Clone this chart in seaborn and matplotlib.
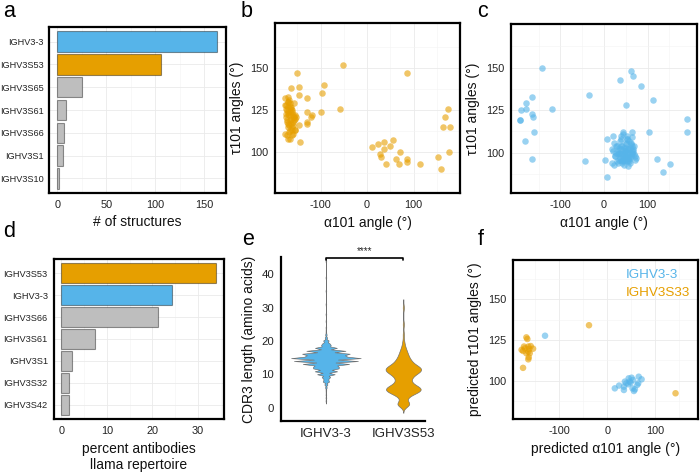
import numpy as np
import pandas as pd
import matplotlib
matplotlib.use("Agg")
import matplotlib.pyplot as plt
import seaborn as sns
from matplotlib.ticker import MultipleLocator, FixedLocator

BLUE = "#56B4E9"
ORANGE = "#E69F00"
GREY = "#BEBEBE"

# ---------------- data ----------------
# panel a: number of structures per germline
a_genes = ["IGHV3-3", "IGHV3S53", "IGHV3S65", "IGHV3S61", "IGHV3S66", "IGHV3S1", "IGHV3S10"]
a_counts = [163, 106, 25, 9, 7, 6, 2]
a_colors = [BLUE, ORANGE, GREY, GREY, GREY, GREY, GREY]

# panel d: percent of llama repertoire
d_genes = ["IGHV3S53", "IGHV3-3", "IGHV3S66", "IGHV3S61", "IGHV3S1", "IGHV3S32", "IGHV3S42"]
d_percent = [33.9, 24.4, 21.3, 7.5, 2.3, 1.8, 1.7]
d_colors = [ORANGE, BLUE, GREY, GREY, GREY, GREY, GREY]

# panel b: IGHV3S53 structures (alpha101, tau101)
b_alpha_out = [-52, -150, 86, -93, -146, -164, -146, -130, -97, -59, -99, -130, -119, -121, -130, -130,
               -146, -154, -144, -170,
               10, 23, 37, 56, 49, 36, 27, 30, 70, 62, 86, 86, 41, 68, 114, 152, 159, 175, 167, 163, 178, 177]
b_tau_out = [152, 147, 147, 140, 139, 138, 134, 132, 135, 126, 124, 124, 122, 121, 118, 117,
             116, 113, 106, 108,
             103, 105, 106, 107, 104, 102, 99, 97, 100, 96, 96, 94, 93, 93, 93, 97, 90, 126, 121, 115, 115, 100]
b_alpha_clu = [-176, -174, -172, -170, -168, -166, -164, -162, -160, -158, -156,
               -175, -173, -171, -169, -167, -165, -163, -161, -159, -157,
               -177, -172, -168, -164, -160, -155,
               -170, -166, -162, -158,
               -174, -170, -165, -161,
               -176, -171, -167, -163, -159,
               -169, -166, -173, -160, -154, -152, -165, -170, -175, -162]
b_tau_clu = [132, 128, 125, 130, 122, 119, 127, 124, 121, 129, 120,
             126, 118, 115, 123, 131, 113, 117, 125, 111, 121,
             128, 110, 116, 120, 118, 122,
             127, 124, 113, 119,
             121, 133, 129, 115,
             111, 124, 112, 126, 116,
             130, 108, 119, 122, 113, 121, 127, 117, 123, 110]

# panel c: IGHV3-3 structures (alpha101, tau101)
c_alpha_out = [-143, 62, 67, 37, 84, -166, -35, 112, -179, -179, -190, 50, -118, -192, -192, -166, -163,
               189, 191, -160, 104, -181, -165, -43, 3, 6, 18, 122, 151, 136, 6, 20, 65]
c_tau_out = [150, 148, 145, 143, 139, 133, 134, 131, 129, 126, 125, 128, 126, 119, 119, 123, 121,
             120, 112, 112, 112, 107, 96.5, 95, 96, 86, 94, 96.5, 93.5, 88.6, 108, 110, 112]
c_alpha_clu = [20, 25, 30, 35, 40, 45, 50, 55, 60, 65, 70,
               22, 28, 33, 38, 43, 48, 53, 58, 63, 68, 73,
               18, 24, 31, 36, 41, 46, 51, 56, 61, 66, 71,
               27, 34, 39, 44, 49, 54, 59, 64, 69,
               32, 37, 42, 47, 52, 57, 62, 67,
               29, 35, 40, 45, 50, 55, 60, 65,
               38, 43, 48, 53, 58,
               26, 46, 51, 56, 61,
               44, 49, 54,
               36, 41, 63, 57, 47, 52, 42, 39, 55]
c_tau_clu = [101, 98, 104, 96, 102, 99, 105, 97, 103, 100, 96,
             106, 100, 94, 108, 97, 101, 110, 95, 99, 104, 97,
             102, 93, 99, 107, 95, 103, 98, 92, 106, 101, 98,
             104, 100, 96, 111, 97, 102, 94, 109, 99,
             101, 97, 104, 100, 95, 107, 98, 102,
             95, 103, 99, 93, 106, 100, 97, 104,
             110, 96, 101, 108, 99,
             98, 95, 103, 100, 105,
             112, 96, 102,
             99, 94, 101, 97, 97, 108, 100, 104, 96]

# panel e: CDR3 length distributions (length -> number of antibodies)
e_genes = ["IGHV3-3", "IGHV3S53"]
e_len_33 = [2, 3, 4, 5, 6, 7, 8, 9, 10, 11, 12, 13, 14, 15, 16, 17, 18, 19, 20, 21, 22, 23, 24, 26, 28, 31, 35, 39, 44]
e_cnt_33 = [1, 1, 1, 1, 2, 4, 10, 12, 22, 30, 45, 62, 80, 100, 75, 50, 28, 15, 8, 3, 2, 1, 1, 1, 1, 1, 1, 1, 1]
e_len_53 = [1, 2, 3, 4, 5, 6, 7, 8, 9, 10, 11, 12, 13, 14, 15, 16, 17, 18, 19, 20, 22, 25, 30]
e_cnt_53 = [9, 2, 3, 8, 16, 16, 8, 6, 7, 10, 16, 16, 9, 7, 5, 4, 3, 2, 1, 1, 1, 1, 1]

# panel f: predicted angles
f_alpha_33 = [-130, 16, 25, 35, 35, 40, 45, 51, 47, 44, 54, 53, 56, 65, 66, 72, 63, 37, 58, 49]
f_tau_33 = [127.6, 95.5, 97.2, 94.5, 96.5, 98.6, 101.6, 102, 99.6, 98, 100.6, 95.5, 93.9, 98.6, 102.6,
            101, 97.6, 99.6, 94.9, 99]
f_alpha_s33 = [-38, 143, -176, -169, -167, -174, -179, -165, -160, -155, -163, -165, -162, -169, -165,
               -164, -176, -172]
f_tau_s33 = [134, 92.5, 108, 126.6, 125.6, 121, 119, 121, 121.3, 119.7, 119.5, 117.9, 116.9, 116.9,
             113.2, 114.4, 118.3, 119.9]

# ---------------- style ----------------
sns.set_style("white")
plt.rcParams["font.family"] = ["Liberation Sans", "DejaVu Sans"]
plt.rcParams["axes.unicode_minus"] = False

W, H = 700, 472
fig = plt.figure(figsize=(7, 4.72), dpi=100)


def add_ax(x0, y0, x1, y1):
    return fig.add_axes([x0 / W, 1 - y1 / H, (x1 - x0) / W, (y1 - y0) / H])


def framed(ax):
    for s in ax.spines.values():
        s.set_visible(True)
        s.set_linewidth(1.6)
        s.set_color("black")
    ax.set_axisbelow(True)
    ax.grid(True, which="major", color="#EAEAEA", lw=0.6)
    ax.grid(True, which="minor", color="#F3F3F3", lw=0.4)
    ax.tick_params(which="major", length=3, width=0.7, color="#333333",
                   labelsize=7.8, labelcolor="#222222", pad=2)
    ax.tick_params(which="minor", length=0)


LBL = dict(fontsize=10, color="#111111")
BAR_EDGE = (0, 0, 0, 0.4)

# ---------------- panel a ----------------
ax = add_ax(49, 27, 226, 193)
sns.barplot(x=a_counts, y=a_genes, hue=a_genes, palette=a_colors, legend=False, orient="h",
            width=0.9, saturation=1, edgecolor=BAR_EDGE, linewidth=0.8, ax=ax)
framed(ax)
ax.set_xlim(-8.5, 172)
ax.set_ylim(6.645, -0.645)
ax.xaxis.set_major_locator(FixedLocator([0, 50, 100, 150]))
ax.xaxis.set_minor_locator(MultipleLocator(25))
ax.tick_params(axis="y", labelsize=6.6, pad=0.8)
ax.set_xlabel("# of structures", **LBL)
ax.set_ylabel("")

# ---------------- panel d ----------------
ax = add_ax(54, 259, 224, 419)
sns.barplot(x=d_percent, y=d_genes, hue=d_genes, palette=d_colors, legend=False, orient="h",
            width=0.9, saturation=1, edgecolor=BAR_EDGE, linewidth=0.8, ax=ax)
framed(ax)
ax.set_xlim(-1.6, 35.7)
ax.set_ylim(6.645, -0.645)
ax.xaxis.set_major_locator(FixedLocator([0, 10, 20, 30]))
ax.xaxis.set_minor_locator(MultipleLocator(5))
ax.tick_params(axis="y", labelsize=6.7, pad=1.5)
ax.set_xlabel("percent antibodies\nllama repertoire", linespacing=1.2, **LBL)
ax.set_ylabel("")


def angle_axes(ax, xlim, ylim, xlabel, ylabel):
    framed(ax)
    ax.set_xlim(*xlim)
    ax.set_ylim(*ylim)
    ax.xaxis.set_major_locator(FixedLocator([-100, 0, 100]))
    ax.xaxis.set_minor_locator(FixedLocator([-150, -50, 50, 150]))
    ax.yaxis.set_major_locator(FixedLocator([100, 125, 150]))
    ax.yaxis.set_minor_locator(FixedLocator([87.5, 112.5, 137.5, 162.5]))
    ax.set_xlabel(xlabel, **LBL)
    ax.set_ylabel(ylabel, **LBL)


PT = dict(s=22, alpha=0.6, linewidth=0)

# ---------------- panel b ----------------
ax = add_ax(275, 23, 460, 193)
sns.scatterplot(x=b_alpha_out + b_alpha_clu, y=b_tau_out + b_tau_clu, color=ORANGE, ax=ax, **PT)
angle_axes(ax, (-198, 200), (75.8, 176.8), "α101 angle (°)", "τ101 angles (°)")

# ---------------- panel c ----------------
ax = add_ax(511, 24, 697, 193)
sns.scatterplot(x=c_alpha_out + c_alpha_clu, y=c_tau_out + c_tau_clu, color=BLUE, ax=ax, **PT)
angle_axes(ax, (-213, 213), (76.3, 175.7), "α101 angle (°)", "τ101 angles (°)")

# ---------------- panel f ----------------
ax = add_ax(513, 260, 698, 419)
df_f = pd.DataFrame({
    "alpha": f_alpha_33 + f_alpha_s33,
    "tau": f_tau_33 + f_tau_s33,
    "gene": ["IGHV3-3"] * len(f_alpha_33) + ["IGHV3S33"] * len(f_alpha_s33),
})
sns.scatterplot(data=df_f, x="alpha", y="tau", hue="gene",
                palette={"IGHV3-3": BLUE, "IGHV3S33": ORANGE}, legend=False, ax=ax, **PT)
angle_axes(ax, (-197, 190), (76.8, 173.8), "predicted α101 angle (°)", "predicted τ101 angles (°)")
ax.text(0.611, 0.887, "IGHV3-3", color=BLUE, fontsize=9.7, transform=ax.transAxes, ha="left", va="baseline")
ax.text(0.611, 0.774, "IGHV3S33", color=ORANGE, fontsize=9.7, transform=ax.transAxes, ha="left", va="baseline")

# ---------------- panel e ----------------
ax = add_ax(281, 257, 425, 421)
vals33 = np.repeat(e_len_33, e_cnt_33).astype(float)
vals53 = np.repeat(e_len_53, e_cnt_53).astype(float)
df33 = pd.DataFrame({"gene": "IGHV3-3", "len": vals33})
df53 = pd.DataFrame({"gene": "IGHV3S53", "len": vals53})
sns.violinplot(data=df33, x="gene", y="len", order=e_genes, color=BLUE, saturation=1, inner=None,
               cut=3, bw_method=0.26 / vals33.std(), density_norm="width", width=0.9,
               linewidth=0.45, linecolor="#6e6e6e", ax=ax)
sns.violinplot(data=df53, x="gene", y="len", order=e_genes, color=ORANGE, saturation=1, inner=None,
               cut=3, bw_method=0.85 / vals53.std(), density_norm="width", width=0.46,
               linewidth=0.45, linecolor="#6e6e6e", ax=ax)
ax.set_xlim(-0.58, 1.28)
ax.set_ylim(-4, 45.2)
ax.set_yticks([0, 10, 20, 30, 40])
for k in ["top", "right"]:
    ax.spines[k].set_visible(False)
for k in ["left", "bottom"]:
    ax.spines[k].set_visible(True)
    ax.spines[k].set_linewidth(1.6)
    ax.spines[k].set_color("black")
ax.tick_params(length=3, width=0.7, color="#333333", labelcolor="#222222", pad=2)
ax.tick_params(axis="y", labelsize=8.2)
ax.tick_params(axis="x", labelsize=9.5)
ax.set_xlabel("")
ax.set_ylabel("CDR3 length (amino acids)", **LBL)
ax.plot([0, 0, 1, 1], [44.3, 45.0, 45.0, 44.3], color="black", lw=1.2, clip_on=False)
ax.text(0.5, 45.4, "****", ha="center", va="bottom", fontsize=7, clip_on=False)

# ---------------- panel letters ----------------
for letter, x, yb in [("a", 3, 17), ("b", 241, 17), ("c", 477, 17),
                      ("d", 3, 237), ("e", 242, 245), ("f", 478, 245)]:
    fig.text(x / W, 1 - yb / H, letter, fontsize=15.5, ha="left", va="baseline", color="black")

fig.savefig("out.png", dpi=100)
